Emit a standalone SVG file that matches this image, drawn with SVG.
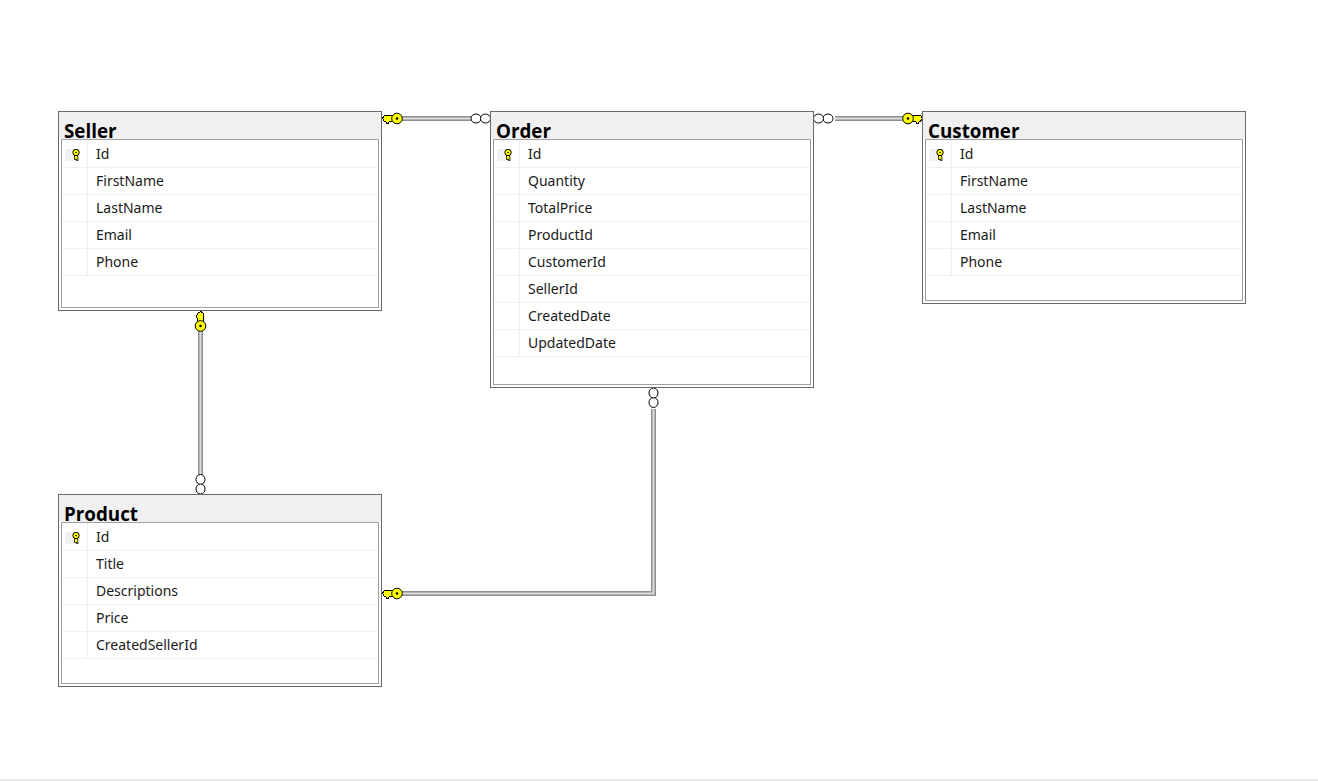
<svg xmlns="http://www.w3.org/2000/svg" width="1318" height="781" viewBox="0 0 1318 781">
<style>
.outer{fill:#fff;stroke:#696969;stroke-width:1}
.head{fill:#f0f0f0}
.inner{fill:#fff;stroke:#a0a0a0;stroke-width:1}
.rule{stroke:#f0f0f0;stroke-width:1;fill:none}
.cell{fill:#f0f0f0}
.title{font-family:"Open Sans","Noto Sans",sans-serif;font-size:18.800px;font-weight:700;fill:#000}
.col{font-family:"Noto Sans","Open Sans",sans-serif;font-size:14px;fill:#1a1a1a}
.w1{fill:none;stroke:#8f8f8f;stroke-width:5}
.w2{fill:none;stroke:#dcdcdc;stroke-width:2}
.ring{fill:#fff;stroke:#000;stroke-width:1}
.kf{fill:#ffff00;stroke:#000;stroke-width:1}
</style>
<defs>
<g id="pk"><rect class="cell" x="-11" y="-5" width="15" height="12"/><path d="M-1.500 1V5.500H0.500V6.500H2V5L1 4.500L2 3.500L1.500 3V1Z" fill="#ffff00" stroke="#000" stroke-width=".8"/><circle cx="0" cy="-1.500" r="3.200" fill="#ffff00" stroke="#000"/><circle cx="0" cy="-1.500" r=".8" fill="#000"/></g>
<g id="fk"><path class="kf" shape-rendering="crispEdges" d="M-15.500 -0.500L-13.500 -3H-5V3H-8.500L-9.500 4.500H-11.500L-12.500 3H-13.500Z"/><circle class="kf" cx="-1" cy="0" r="5.300"/><circle cx="-1" cy="0" r="1.300" fill="#000"/></g>
<g id="inf"><ellipse class="ring" cx="-14.500" cy="0" rx="5" ry="4.500"/><ellipse class="ring" cx="-5" cy="0" rx="5" ry="4.500"/></g>
</defs>
<rect x="0" y="779" width="1318" height="2" fill="#e6e6e6"/>
<g id="connectors">
<path class="w1" d="M402 118.500H472"/><path class="w2" d="M402 118.500H472"/>
<path class="w1" d="M835 118.500H903"/><path class="w2" d="M835 118.500H903"/>
<path class="w1" d="M200.500 331V475"/><path class="w2" d="M200.500 331V475"/>
<path class="w1" d="M653.500 409V593.500H402"/><path class="w2" d="M653.500 409V593.500H402"/>
<use href="#fk" transform="translate(398,118.500)"/>
<use href="#inf" transform="translate(490.500,118.500)"/>
<use href="#inf" transform="translate(813.500,118.500) scale(-1,1)"/>
<use href="#fk" transform="translate(907,118.500) scale(-1,1)"/>
<use href="#fk" transform="translate(200.500,327) rotate(90)"/>
<use href="#inf" transform="translate(200.500,494) rotate(90)"/>
<use href="#fk" transform="translate(398,593.500)"/>
<use href="#inf" transform="translate(653.500,388) rotate(-90)"/>
</g>
<g id="seller">
<rect class="outer" x="58.500" y="111.500" width="323" height="199"/>
<rect class="head" x="59" y="112" width="322" height="27"/>
<rect class="inner" x="61.500" y="139.500" width="317" height="168"/>
<path class="rule" d="M62 167.500H378M62 194.500H378M62 221.500H378M62 248.500H378M62 275.500H378M87.500 140V275"/>
<text class="title" x="64" y="138">Seller</text>
<use href="#pk" transform="translate(76,154)"/>
<text class="col" x="96" y="159">Id</text>
<text class="col" x="96" y="186">FirstName</text>
<text class="col" x="96" y="213">LastName</text>
<text class="col" x="96" y="240">Email</text>
<text class="col" x="96" y="267">Phone</text>
</g>
<g id="order">
<rect class="outer" x="490.500" y="111.500" width="323" height="276"/>
<rect class="head" x="491" y="112" width="322" height="27"/>
<rect class="inner" x="493.500" y="139.500" width="317" height="245"/>
<path class="rule" d="M494 167.500H810M494 194.500H810M494 221.500H810M494 248.500H810M494 275.500H810M494 302.500H810M494 329.500H810M494 356.500H810M519.500 140V356"/>
<text class="title" x="496" y="138">Order</text>
<use href="#pk" transform="translate(508,154)"/>
<text class="col" x="528" y="159">Id</text>
<text class="col" x="528" y="186">Quantity</text>
<text class="col" x="528" y="213">TotalPrice</text>
<text class="col" x="528" y="240">ProductId</text>
<text class="col" x="528" y="267">CustomerId</text>
<text class="col" x="528" y="294">SellerId</text>
<text class="col" x="528" y="321">CreatedDate</text>
<text class="col" x="528" y="348">UpdatedDate</text>
</g>
<g id="customer">
<rect class="outer" x="922.500" y="111.500" width="323" height="192"/>
<rect class="head" x="923" y="112" width="322" height="27"/>
<rect class="inner" x="925.500" y="139.500" width="317" height="161"/>
<path class="rule" d="M926 167.500H1242M926 194.500H1242M926 221.500H1242M926 248.500H1242M926 275.500H1242M951.500 140V275"/>
<text class="title" x="928" y="138">Customer</text>
<use href="#pk" transform="translate(940,154)"/>
<text class="col" x="960" y="159">Id</text>
<text class="col" x="960" y="186">FirstName</text>
<text class="col" x="960" y="213">LastName</text>
<text class="col" x="960" y="240">Email</text>
<text class="col" x="960" y="267">Phone</text>
</g>
<g id="product">
<rect class="outer" x="58.500" y="494.500" width="323" height="192"/>
<rect class="head" x="59" y="495" width="322" height="27"/>
<rect class="inner" x="61.500" y="522.500" width="317" height="161"/>
<path class="rule" d="M62 550.500H378M62 577.500H378M62 604.500H378M62 631.500H378M62 658.500H378M87.500 523V658"/>
<text class="title" x="64" y="521">Product</text>
<use href="#pk" transform="translate(76,537)"/>
<text class="col" x="96" y="542">Id</text>
<text class="col" x="96" y="569">Title</text>
<text class="col" x="96" y="596">Descriptions</text>
<text class="col" x="96" y="623">Price</text>
<text class="col" x="96" y="650">CreatedSellerId</text>
</g>
</svg>
